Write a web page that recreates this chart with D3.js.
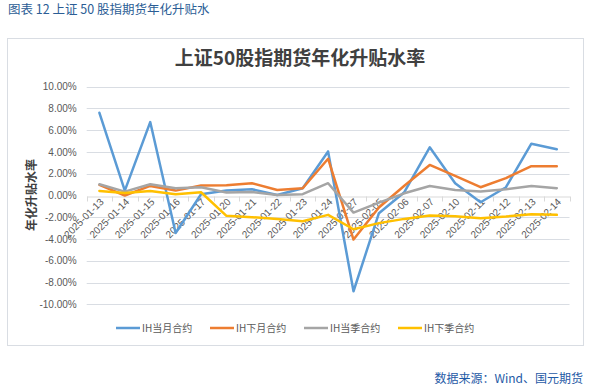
<!DOCTYPE html>
<html><head><meta charset="utf-8">
<script src="https://cdn.jsdelivr.net/npm/d3@7"></script>
<style>
html,body{margin:0;padding:0;background:#fff;}
svg{display:block;}
</style></head>
<body>
<svg id="c" width="599" height="390"></svg>
<script>
const dates = ["2025-01-13","2025-01-14","2025-01-15","2025-01-16","2025-01-17","2025-01-20","2025-01-21","2025-01-22","2025-01-23","2025-01-24","2025-01-27","2025-02-05","2025-02-06","2025-02-07","2025-02-10","2025-02-11","2025-02-12","2025-02-13","2025-02-14"];
const ihCurrentMonth = [7.6, 0.45, 6.75, -3.45, 0.12, 0.45, 0.58, 0.05, 0.67, 4.05, -8.8, -1.63, 0.3, 4.43, 1.13, -0.62, 0.76, 4.76, 4.25];
const ihNextMonth = [0.97, 0.0, 0.88, 0.45, 0.91, 0.94, 1.13, 0.51, 0.67, 3.38, -4.05, -1.1, 0.9, 2.81, 1.8, 0.76, 1.6, 2.69, 2.69];
const ihCurrentQuarter = [1.03, 0.36, 1.03, 0.67, 0.76, 0.27, 0.33, 0.05, 0.12, 1.13, -1.57, -0.65, 0.2, 0.88, 0.51, 0.36, 0.58, 0.88, 0.67];
const ihNextQuarter = [0.42, 0.24, 0.42, 0.12, 0.30, -1.87, -1.99, -2.15, -2.36, -1.78, -3.1, -2.54, -2.15, -1.84, -1.9, -2.08, -1.93, -1.72, -1.78];
const seriesNames = ["IH当月合约","IH下月合约","IH当季合约","IH下季合约"];
const yTicks = [10,8,6,4,2,0,-2,-4,-6,-8,-10];

const colors = ["#5b9bd5","#ed7d31","#a5a5a5","#ffc000"];
const series = [ihCurrentMonth, ihNextMonth, ihCurrentQuarter, ihNextQuarter].map((v,i)=>({name:seriesNames[i], values:v, color:colors[i]}));

const svg = d3.select("#c");
const font = "'Liberation Sans', Arial, 'Noto Sans CJK SC', sans-serif";
const cjk = "'Noto Sans CJK SC', sans-serif";

// header
svg.append("text").attr("x",8).attr("y",14).attr("font-family",cjk).attr("font-size",12.5).attr("fill","#2b5d95").text("图表 12  上证 50 股指期货年化升贴水");
// chart border
svg.append("rect").attr("x",7.5).attr("y",38.5).attr("width",576).attr("height",307).attr("fill","#fff").attr("stroke","#d9dde3").attr("stroke-width",1);
// title
svg.append("text").attr("x",300).attr("y",65).attr("text-anchor","middle").attr("font-family",cjk).attr("font-weight","bold").attr("font-size",19).attr("fill","#404040").text("上证50股指期货年化升贴水率");

const x = d3.scaleBand().domain(dates).range([86.7,569.5]);
const y = d3.scaleLinear().domain([-10,10]).range([304.3,86.7]);

// gridlines
svg.append("g").selectAll("line").data(yTicks.filter(d=>d!==0)).join("line")
  .attr("x1",x.range()[0]).attr("x2",x.range()[1])
  .attr("y1",d=>Math.round(y(d))+0.5).attr("y2",d=>Math.round(y(d))+0.5)
  .attr("stroke","#d9dde3").attr("stroke-width",1);

// y axis labels
const yAxis = d3.axisLeft(y).tickValues(yTicks).tickSize(0).tickPadding(10).tickFormat(d=>d.toFixed(2)+"%");
const gy = svg.append("g").attr("transform",`translate(${x.range()[0]},0)`).call(yAxis);
gy.select(".domain").remove();
gy.selectAll("text").attr("font-family",font).attr("font-size",10).attr("fill","#595959");

// x axis at zero
const y0 = Math.round(y(0))+0.5;
const xAxis = d3.axisBottom(x).tickSize(0).tickFormat(d=>d);
const gx = svg.append("g").attr("transform",`translate(0,${y0})`).call(xAxis);
gx.select(".domain").attr("stroke","#d9d9d9").attr("stroke-width",1);
gx.selectAll(".tick text").attr("font-family",font).attr("font-size",10).attr("fill","#595959")
  .attr("text-anchor","end").attr("dy",0).attr("y",0)
  .attr("transform","translate(5,6) rotate(-45)");
// category boundary ticks
svg.append("g").selectAll("line").data(dates.concat(["_end"])).join("line")
  .attr("x1",(d,i)=>Math.round(x.range()[0]+i*x.bandwidth())+0.5)
  .attr("x2",(d,i)=>Math.round(x.range()[0]+i*x.bandwidth())+0.5)
  .attr("y1",y0).attr("y2",y0+5).attr("stroke","#d9d9d9");

// y axis title
svg.append("text").attr("transform","translate(36,195) rotate(-90)").attr("text-anchor","middle")
  .attr("font-family",cjk).attr("font-weight","bold").attr("font-size",12).attr("fill","#404040").text("年化升贴水率");

// lines
const line = d3.line().x((d,i)=>x(dates[i])+x.bandwidth()/2).y(d=>y(d));
svg.append("g").selectAll("path").data(series).join("path")
  .attr("d",d=>line(d.values)).attr("fill","none").attr("stroke",d=>d.color)
  .attr("stroke-width",2.5).attr("stroke-linejoin","round").attr("stroke-linecap","round");

// legend
const legX = [116,210,304,398];
const lg = svg.append("g").selectAll("g").data(series).join("g").attr("transform",(d,i)=>`translate(${legX[i]},328)`);
lg.append("line").attr("x1",0).attr("x2",24).attr("y1",0).attr("y2",0).attr("stroke",d=>d.color).attr("stroke-width",2.5);
lg.append("text").attr("x",26).attr("y",4).attr("font-family",cjk).attr("font-size",10).attr("fill","#595959").text(d=>d.name);

// source
svg.append("text").attr("x",583).attr("y",383).attr("text-anchor","end").attr("font-family",cjk).attr("font-size",12).attr("fill","#1f5aa6").text("数据来源：Wind、国元期货");
</script>
</body></html>
